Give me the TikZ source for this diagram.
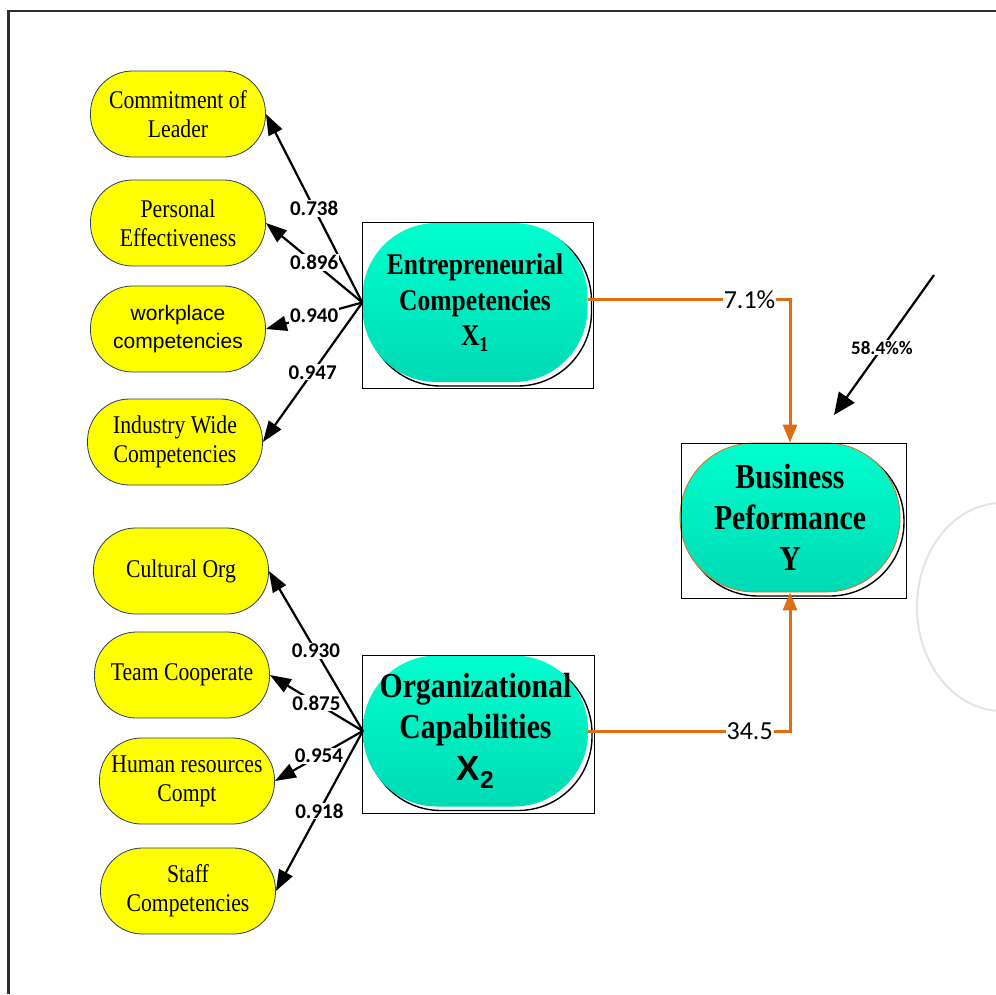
\documentclass[tikz,border=0pt]{standalone}
\usepackage{fontspec}
\setmainfont{Liberation Serif}
\setsansfont{Liberation Sans}
\newfontfamily\condserif[FakeStretch=0.85]{Liberation Serif}
\newfontfamily\labelfont{Carlito}
\usepackage{xcolor}
\definecolor{yellow3}{RGB}{255,255,0}
\definecolor{edge3}{RGB}{40,60,95}
\definecolor{green3top}{RGB}{0,255,206}
\definecolor{green3bot}{RGB}{0,218,180}
\definecolor{orange3}{RGB}{222,110,22}
\definecolor{gray3}{RGB}{228,228,228}
\definecolor{frame3}{RGB}{45,45,45}
\usetikzlibrary{arrows.meta, shadows}

\begin{document}
\begin{tikzpicture}[x=1pt, y=-1pt,
    indicator/.style={draw=edge3, line width=0.8pt, fill=yellow3,
        rounded corners=42pt, minimum width=175pt, minimum height=86pt,
        inner sep=0pt, align=center,
        font=\condserif\fontsize{25.5}{29}\selectfont},
    latent/.style={shade, top color=green3top, bottom color=green3bot,
        general shadow={shadow xshift=4pt, shadow yshift=-4pt,
            draw=black, fill=white, line width=1.4pt},
        rounded corners=74pt, minimum width=225pt,
        inner sep=0pt, align=center},
    loadarrow/.style={line width=2.2pt, -{Triangle[length=21pt,width=15pt]}},
    loadlabel/.style={fill=white, inner sep=1pt,
        font=\labelfont\bfseries\fontsize{21}{21}\selectfont},
    patharrow/.style={orange3, line width=3pt,
        -{Triangle[length=18pt,width=14pt]}},
    pathlabel/.style={fill=white, inner sep=1pt, text=black,
        font=\labelfont\fontsize{26}{26}\selectfont},
    latentbox/.style={draw=black, line width=1.2pt}]

\useasboundingbox (0,0) rectangle (996,994);

% Frame (cut at the right and bottom)
\draw[frame3, line width=2.6pt] (8.5,994) -- (8.5,11) -- (996,11);

% Light circle at the right edge
\draw[gray3, line width=2pt] (1002,607) ellipse [x radius=85pt, y radius=104pt];

% Indicators of X1
\node[indicator] (lead) at (178,114) {Commitment of\\Leader};
\node[indicator] (pers) at (178,223) {Personal\\Effectiveness};
\node[indicator, font=\sffamily\fontsize{21}{28}\selectfont]
    (work) at (178,329) {workplace\\competencies};
\node[indicator] (indu) at (175,442) {Industry Wide\\Competencies};

% Indicators of X2
\node[indicator] (cult) at (181,571) {Cultural Org};
\node[indicator] (team) at (182,675) {Team Cooperate};
\node[indicator] (hres) at (187,781) {Human resources\\Compt};
\node[indicator] (staf) at (188,891) {Staff\\Competencies};

% Latent variables
\node[latent, minimum height=159pt,
    font=\condserif\bfseries\fontsize{30}{35.5}\selectfont]
    (ent) at (475,302.5) {Entrepreneurial\\Competencies\\X\textsubscript{1}};
\node[latent, minimum height=151pt,
    font=\condserif\bfseries\fontsize{35}{41.5}\selectfont]
    (org) at (475.5,731) {Organizational\\Capabilities\\{\sffamily X\textsubscript{2}}};
\node[latent, draw=orange3, line width=0.8pt, minimum width=220pt, minimum height=149pt,
    font=\condserif\bfseries\fontsize{35}{41}\selectfont]
    (bus) at (790,517.5) {Business\\Peformance\\Y};

% Boxes round the latent variables
\draw[latentbox] (ent.north west) rectangle ([xshift=6pt,yshift=-6pt]ent.south east);
\draw[latentbox] (org.north west) rectangle ([xshift=6pt,yshift=-7pt]org.south east);
\draw[latentbox] ([xshift=2pt,yshift=-1pt]bus.north west)
    rectangle ([xshift=6pt,yshift=-6pt]bus.south east);

% Loadings of X1
\draw[loadarrow] (ent.west) -- node[loadlabel] {0.738} (lead.east);
\draw[loadarrow] (ent.west) -- node[loadlabel] {0.896} (pers.east);
\draw[loadarrow] (ent.west) -- node[loadlabel] {0.940} (work.east);
\draw[loadarrow] (ent.west) -- node[loadlabel] {0.947} (indu.east);

% Loadings of X2
\draw[loadarrow] (org.west) -- node[loadlabel] {0.930} (cult.east);
\draw[loadarrow] (org.west) -- node[loadlabel] {0.875} (team.east);
\draw[loadarrow] (org.west) -- node[loadlabel] {0.954} (hres.east);
\draw[loadarrow] (org.west) -- node[loadlabel] {0.918} (staf.east);

% Paths to Y
\draw[patharrow] ([yshift=3pt]ent.east) -| node[pathlabel, pos=0.4] {7.1\%} (bus.north);
\draw[patharrow] (org.east) -| node[pathlabel, pos=0.4] {34.5} (bus.south);

% Error term
\coordinate (errstart) at (934,275);
\coordinate (errend) at (834,415);
\draw[loadarrow, -{Triangle[length=22pt,width=19pt]}] (errstart)
    -- node[loadlabel, pos=0.52, font=\labelfont\bfseries\fontsize{19}{19}\selectfont]
    {58.4\%\%} (errend);

\end{tikzpicture}
\end{document}
